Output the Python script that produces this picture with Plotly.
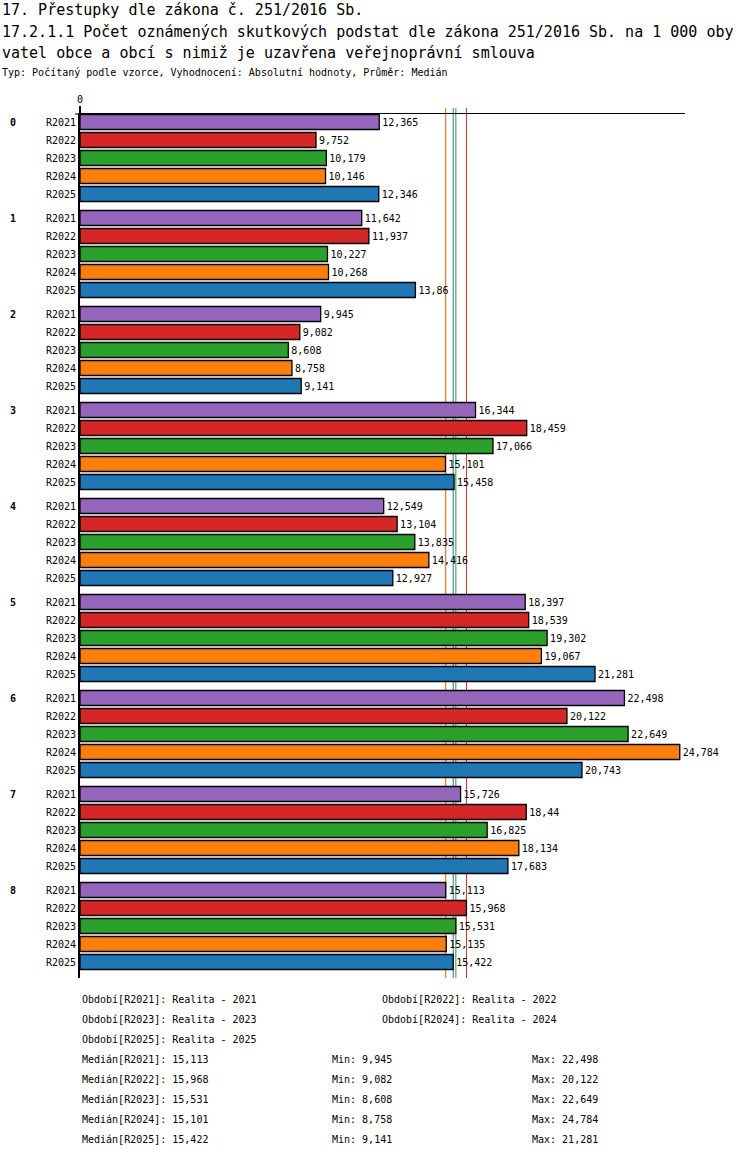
import plotly.graph_objects as go

# Données
groups = ['0', '1', '2', '3', '4', '5', '6', '7', '8']
periods = ['R2021', 'R2022', 'R2023', 'R2024', 'R2025']
period_names = ['Realita - 2021', 'Realita - 2022', 'Realita - 2023',
                'Realita - 2024', 'Realita - 2025']
colors = ['#9467bd', '#d62728', '#2ca02c', '#ff7f0e', '#1f77b4']

r2021 = [12.365, 11.642, 9.945, 16.344, 12.549, 18.397, 22.498, 15.726, 15.113]
r2022 = [9.752, 11.937, 9.082, 18.459, 13.104, 18.539, 20.122, 18.44, 15.968]
r2023 = [10.179, 10.227, 8.608, 17.066, 13.835, 19.302, 22.649, 16.825, 15.531]
r2024 = [10.146, 10.268, 8.758, 15.101, 14.416, 19.067, 24.784, 18.134, 15.135]
r2025 = [12.346, 13.86, 9.141, 15.458, 12.927, 21.281, 20.743, 17.683, 15.422]
series = [r2021, r2022, r2023, r2024, r2025]

title1 = '17. Přestupky dle zákona č. 251/2016 Sb.'
title2 = '17.2.1.1 Počet oznámených skutkových podstat dle zákona 251/2016 Sb. na 1 000 oby'
title3 = 'vatel obce a obcí s nimiž je uzavřena veřejnoprávní smlouva'
subtitle = 'Typ: Počítaný podle vzorce, Vyhodnocení: Absolutní hodnoty, Průměr: Medián'

FONT = 'DejaVu Sans Mono'
W, H = 750, 1158
ML, MR, MT, MB = 80, 65, 114, 180
PW, PH = W - ML - MR, H - MT - MB
ROW = 18      # pas entre barres
GROUP = 96    # pas entre groupes


def fmt(v):
    return ('%g' % v).replace('.', ',')


def median(vals):
    s = sorted(vals)
    n = len(s)
    return s[n // 2] if n % 2 else (s[n // 2 - 1] + s[n // 2]) / 2


def px(x):  # pixel -> paper
    return (x - ML) / PW


def py(y):
    return 1 - (y - MT) / PH


fig = go.Figure()

tickvals, ticktext = [], []
for i, (name, vals, col) in enumerate(zip(periods, series, colors)):
    ypos = [g * GROUP + i * ROW for g in range(len(groups))]
    tickvals += ypos
    ticktext += [name] * len(ypos)
    fig.add_trace(go.Bar(
        x=vals, y=ypos, orientation='h', width=15,
        marker=dict(color=col, line=dict(color='black', width=1.3)),
        text=[fmt(v) for v in vals], textposition='outside',
        constraintext='none', cliponaxis=False,
        textfont=dict(family=FONT, size=10, color='black'),
        name=name, showlegend=False,
    ))

# Lignes des médianes
for vals, col in zip(series, colors):
    fig.add_shape(type='line', xref='x', yref='paper',
                  x0=median(vals), x1=median(vals), y0=0, y1=py(108),
                  line=dict(color=col, width=1), layer='below')

# prolongement de l'axe vertical et petit trait à gauche
fig.add_shape(type='line', xref='paper', yref='paper', x0=0, x1=0, y0=1, y1=py(106),
              line=dict(color='black', width=2))
fig.add_shape(type='line', xref='paper', yref='paper', x0=px(75), x1=0, y0=1, y1=1,
              line=dict(color='black', width=1))

annotations = []
for g, name in enumerate(groups):
    annotations.append(dict(text='<b>%s</b>' % name, xref='paper', yref='y',
                            x=px(13), y=g * GROUP, showarrow=False,
                            xanchor='center', font=dict(family=FONT, size=10)))

for txt, y, size in [(title1, 10, 15), (title2, 32, 15), (title3, 53, 15), (subtitle, 73, 10)]:
    annotations.append(dict(text=txt, xref='paper', yref='paper', x=px(0), y=py(y),
                            xanchor='left', yanchor='middle', showarrow=False,
                            font=dict(family=FONT, size=size, color='black')))

# Bloc de légende en bas
legend_lines = []
for k, (p, pn) in enumerate(zip(periods, period_names)):
    legend_lines.append(('Období[%s]: %s' % (p, pn), 80 + 300 * (k % 2), 999 + 20 * (k // 2)))
for k, (p, vals) in enumerate(zip(periods, series)):
    y = 1059 + 20 * k
    legend_lines.append(('Medián[%s]: %s' % (p, fmt(median(vals))), 80, y))
    legend_lines.append(('Min: %s' % fmt(min(vals)), 330, y))
    legend_lines.append(('Max: %s' % fmt(max(vals)), 530, y))
for txt, x, y in legend_lines:
    annotations.append(dict(text=txt, xref='paper', yref='paper', x=px(x), y=py(y),
                            xanchor='left', yanchor='middle', showarrow=False,
                            font=dict(family=FONT, size=10, color='black')))

fig.update_layout(
    width=W, height=H,
    margin=dict(l=ML, r=MR, t=MT, b=MB, pad=0),
    paper_bgcolor='white', plot_bgcolor='white',
    barmode='overlay',
    font=dict(family=FONT, size=10, color='black'),
    xaxis=dict(side='top', range=[0, 25], tickvals=[0], ticktext=['0'],
               ticks='outside', ticklen=6, tickwidth=2, tickcolor='black',
               showline=True, linecolor='black', linewidth=1,
               showgrid=False, zeroline=False, tickfont=dict(size=10)),
    yaxis=dict(range=[8 * GROUP + 4 * ROW + 16, -8], tickvals=tickvals, ticktext=ticktext,
               ticks='', showline=True, linecolor='black', linewidth=2,
               showgrid=False, zeroline=False, tickfont=dict(size=10)),
    annotations=annotations,
)

fig.write_html("out.html", config={'displayModeBar': False},
               post_script="document.body.style.margin='0';")
